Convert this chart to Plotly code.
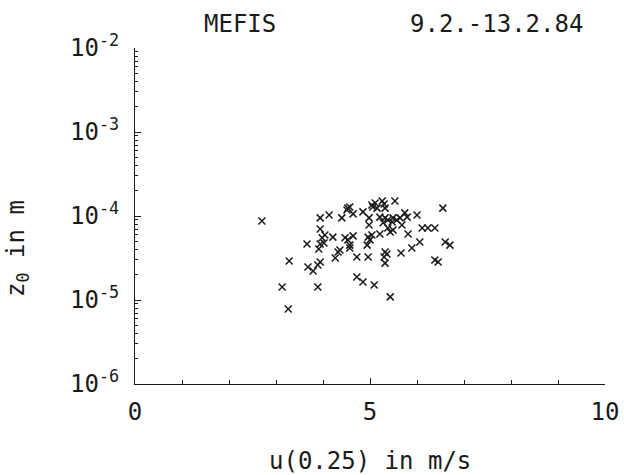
import plotly.graph_objects as go

# wind speed u(0.25) in m/s
u = [2.70, 3.13, 3.26, 3.28, 3.66, 3.68, 3.79, 3.89, 3.94, 3.89,
     3.94, 3.94, 4.04, 3.98, 4.02, 3.94, 3.91, 4.13, 4.21, 4.26,
     4.32, 4.36, 4.40, 4.51, 4.53, 4.57, 4.64, 4.47, 4.53, 4.64,
     4.57, 4.57, 4.72, 4.72, 4.85, 4.85, 4.96, 4.98, 4.98, 4.96,
     5.04, 5.00, 4.94, 5.04, 5.11, 5.06, 5.15, 5.09, 5.21, 5.21,
     5.26, 5.30, 5.32, 5.32, 5.38, 5.47, 5.49, 5.57, 5.64, 5.28,
     5.38, 5.43, 5.49, 5.32, 5.36, 5.30, 5.32, 5.43, 5.53, 5.66,
     5.68, 5.74, 5.79, 5.81, 5.89, 6.00, 6.06, 6.11, 6.23, 6.38,
     6.38, 6.45, 6.55, 6.60, 6.70]

# roughness length z0 in m
z0 = [8.7e-5, 1.43e-5, 7.8e-6, 2.91e-5, 4.64e-5, 2.47e-5, 2.21e-5, 2.61e-5, 2.83e-5, 1.43e-5,
      9.5e-5, 7.0e-5, 5.95e-5, 5.5e-5, 4.77e-5, 4.64e-5, 4.05e-5, 1.03e-4, 5.6e-5, 3.16e-5,
      3.72e-5, 3.94e-5, 9.5e-5, 1.18e-4, 1.24e-4, 1.28e-4, 1.06e-4, 5.5e-5, 5.2e-5, 5.8e-5,
      4.5e-5, 4.16e-5, 3.25e-5, 1.88e-5, 1.64e-5, 1.12e-4, 3.25e-5, 9.5e-5, 7.8e-5, 5.6e-5,
      5.95e-5, 5.2e-5, 4.5e-5, 1.35e-4, 1.43e-4, 1.28e-4, 1.24e-4, 1.51e-5, 9.7e-5, 6.1e-5,
      1.51e-4, 1.39e-4, 1.24e-4, 9.5e-5, 8.95e-5, 8.5e-5, 9.5e-5, 8.95e-5, 9.5e-5, 8.3e-5,
      7.2e-5, 6.45e-5, 6.8e-5, 3.72e-5, 3.53e-5, 3.25e-5, 2.75e-5, 1.09e-5, 1.51e-4, 3.63e-5,
      7.8e-5, 1.09e-4, 9.7e-5, 6.1e-5, 4.16e-5, 1.03e-4, 4.9e-5, 7.2e-5, 7.2e-5, 7.2e-5,
      2.99e-5, 2.83e-5, 1.24e-4, 4.9e-5, 4.5e-5]

x_tickvals = [0, 5, 10]
x_ticktext = ["0", "5", "10"]
x_minorvals = [1, 2, 3, 4, 6, 7, 8, 9]
y_tickvals = [1e-6, 1e-5, 1e-4, 1e-3, 1e-2]
y_ticktext = ["10<sup>-6</sup>", "10<sup>-5</sup>", "10<sup>-4</sup>",
              "10<sup>-3</sup>", "10<sup>-2</sup>"]
y_minorvals = [k * d for d in (1e-6, 1e-5, 1e-4, 1e-3) for k in range(2, 10)]

FONT = "DejaVu Sans Mono"
INK = "#1a1a1a"

fig = go.Figure()
fig.add_trace(go.Scatter(
    x=u, y=z0, mode="markers",
    marker=dict(symbol="x-thin-open", size=7, color=INK,
                line=dict(width=1.5, color=INK)),
    showlegend=False, hoverinfo="skip"))

fig.update_layout(
    width=624, height=475,
    margin=dict(l=135, r=19, t=48, b=91),
    paper_bgcolor="white", plot_bgcolor="white",
    font=dict(family=FONT, size=22, color=INK),
    xaxis=dict(range=[0, 10], showgrid=False, zeroline=False, automargin=False,
               showline=True, linecolor=INK, linewidth=1.2,
               tickmode="array", tickvals=x_tickvals, ticktext=x_ticktext,
               ticks="inside", ticklen=6, tickcolor=INK, tickwidth=1,
               minor=dict(ticks="inside", tickmode="array", tickvals=x_minorvals,
                          ticklen=4, tickcolor=INK, tickwidth=1, showgrid=False),
               tickfont=dict(family=FONT, size=24, color=INK),
               ticklabelstandoff=6),
    yaxis=dict(type="log", range=[-6, -2], showgrid=False, zeroline=False, automargin=False,
               showline=True, linecolor=INK, linewidth=1.2,
               tickmode="array", tickvals=y_tickvals, ticktext=y_ticktext,
               ticks="inside", ticklen=6, tickcolor=INK, tickwidth=1,
               minor=dict(ticks="inside", tickmode="array", tickvals=y_minorvals,
                          ticklen=3, tickcolor=INK, tickwidth=1, showgrid=False),
               tickfont=dict(family=FONT, size=24, color=INK),
               ticklabelstandoff=10),
)

annotations = [
    dict(text="MEFIS", x=0.223, y=1.071, xref="paper", yref="paper",
         showarrow=False, font=dict(family=FONT, size=24, color=INK),
         xanchor="center", yanchor="middle"),
    dict(text="9.2.-13.2.84", x=0.77, y=1.071, xref="paper", yref="paper",
         showarrow=False, font=dict(family=FONT, size=24, color=INK),
         xanchor="center", yanchor="middle"),
    dict(text="u(0.25) in m/s", x=0.5, y=-0.228, xref="paper", yref="paper",
         showarrow=False, font=dict(family=FONT, size=24, color=INK),
         xanchor="center", yanchor="middle"),
    dict(text="z<sub>0</sub> in m", x=-0.249, y=0.405, xref="paper", yref="paper",
         showarrow=False, textangle=-90, font=dict(family=FONT, size=24, color=INK),
         xanchor="center", yanchor="middle"),
]
fig.update_layout(annotations=annotations)

fig.write_html("out.html", config={"displayModeBar": False},
               post_script="document.body.style.margin='0';")
